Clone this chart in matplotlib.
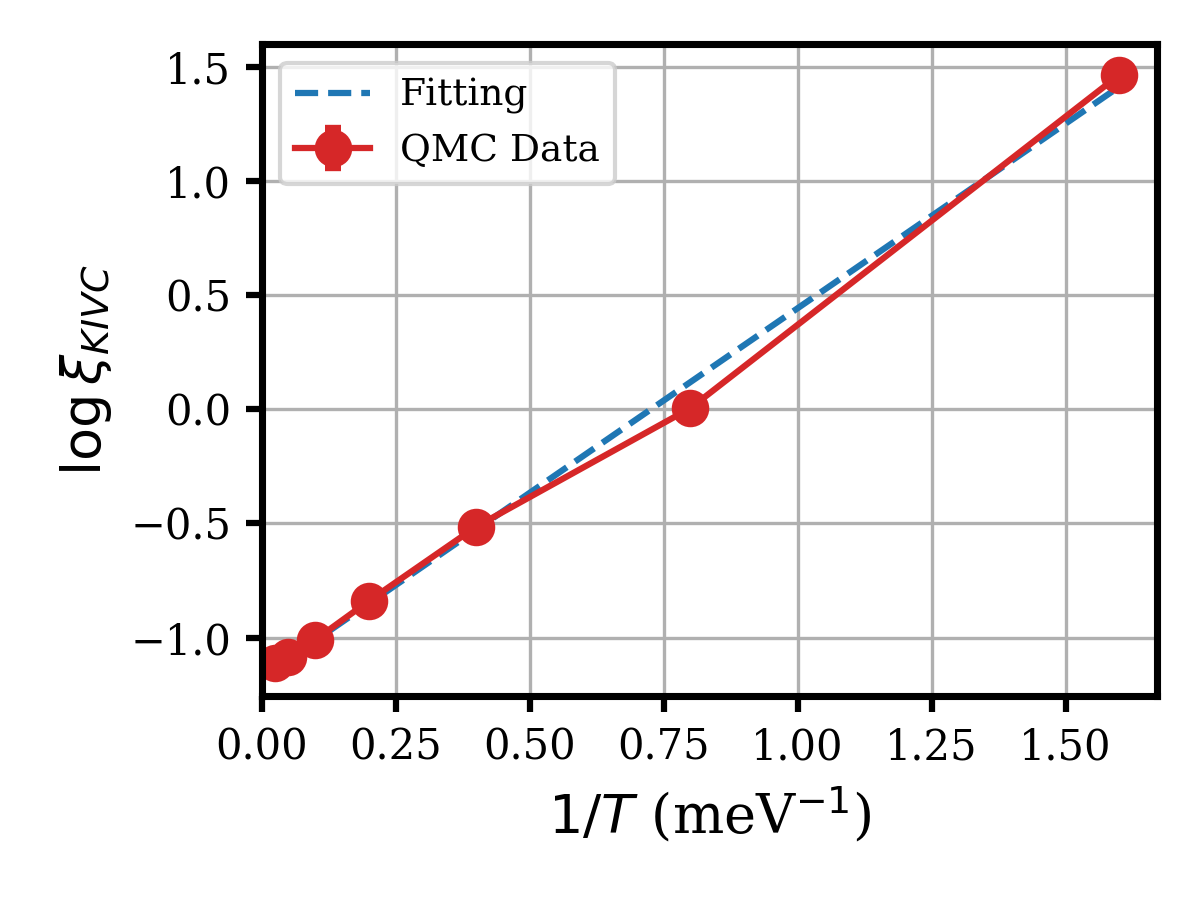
import numpy as np
import matplotlib
matplotlib.use('Agg')
import matplotlib.pyplot as plt

plt.rcParams['font.family'] = 'DejaVu Serif'
plt.rcParams['mathtext.fontset'] = 'dejavusans'
plt.rcParams['axes.linewidth'] = 1.7
plt.rcParams['xtick.major.width'] = 1.5
plt.rcParams['ytick.major.width'] = 1.5
plt.rcParams['xtick.major.size'] = 3.8
plt.rcParams['ytick.major.size'] = 3.8

# inverse temperature (meV^-1) and log correlation length from QMC
inv_T = np.array([0.025, 0.05, 0.1, 0.2, 0.4, 0.8, 1.6])
log_xi = np.array([-1.11, -1.085, -1.01, -0.84, -0.515, 0.005, 1.465])
log_xi_err = np.array([0.01, 0.01, 0.01, 0.01, 0.01, 0.01, 0.01])

# linear fit
p = np.polyfit(inv_T, log_xi, 1)
fit = np.polyval(p, inv_T)

fig, ax = plt.subplots(figsize=(4, 3), dpi=300)
ax.plot(inv_T, fit, '--', color='tab:blue', lw=1.5, label='Fitting')
ax.errorbar(inv_T, log_xi, yerr=log_xi_err, fmt='o-', color='tab:red',
            lw=1.5, ms=8, capsize=2, capthick=2, label='QMC Data')
ax.set_xlim(0, 1.67)
ax.set_ylim(-1.255, 1.6)
ax.set_xticks([0.0, 0.25, 0.5, 0.75, 1.0, 1.25, 1.5])
ax.set_yticks([-1.0, -0.5, 0.0, 0.5, 1.0, 1.5])
ax.tick_params(labelsize=10)
ax.grid(True)
ax.set_axisbelow(True)
ax.set_xlabel(r'$1/T$ (meV$^{-1}$)', fontsize=13)
ax.set_ylabel(r'$\log \xi_{KIVC}$', fontsize=13)
ax.legend(fontsize=9, loc='upper left')
fig.subplots_adjust(left=0.218, right=0.964, top=0.951, bottom=0.227)
fig.savefig('out.png', dpi=300)
